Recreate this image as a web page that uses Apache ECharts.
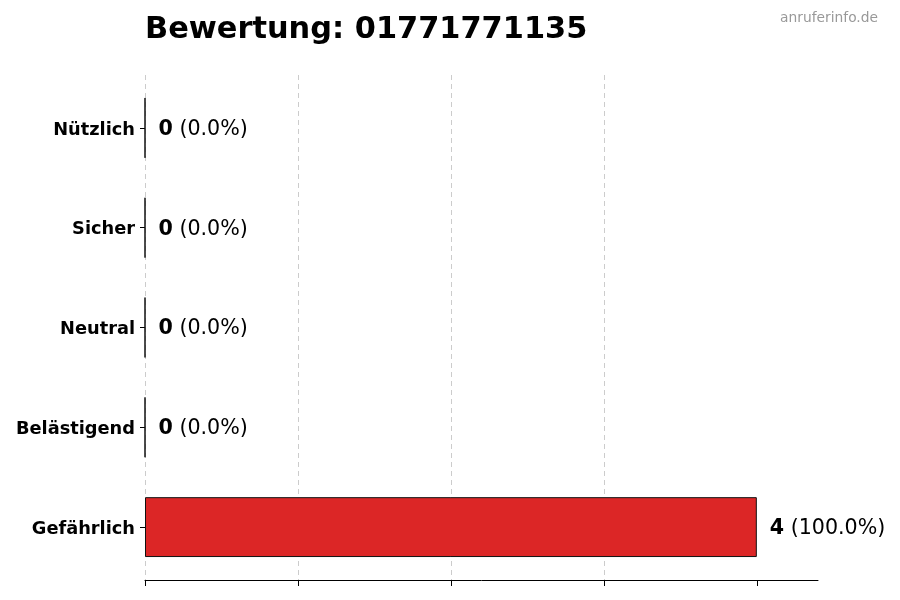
<!DOCTYPE html>
<html><head><meta charset="utf-8">
<script src="https://cdn.jsdelivr.net/npm/echarts@6/dist/echarts.min.js"></script>
<style>html,body{margin:0;padding:0;background:#fff}#c{width:900px;height:600px}</style>
</head><body><div id="c"></div>
<script>
const categories = ['Gefährlich', 'Belästigend', 'Neutral', 'Sicher', 'Nützlich'];
const values = [4, 0, 0, 0, 0];
const percents = [100.0, 0.0, 0.0, 0.0, 0.0];
const xTicks = [0, 1, 2, 3, 4];
const titleText = 'Bewertung: 01771771135';
const watermark = 'anruferinfo.de';

const FONT = 'DejaVu Sans';
const chart = echarts.init(document.getElementById('c'));
chart.setOption({
  animation: false,
  backgroundColor: '#fff',
  title: [
    { text: titleText, left: 140, top: 10, textStyle: { fontFamily: FONT, fontSize: 30.4, fontWeight: 'bold', color: '#000' } },
    { text: watermark, right: 17, top: 6, textStyle: { fontFamily: FONT, fontSize: 13.8, fontWeight: 'normal', color: '#999' } }
  ],
  grid: [
    { left: 145, right: 82, top: 75, bottom: 20, containLabel: false },
    { left: 145, right: 82, top: 78, bottom: 23, containLabel: false }
  ],
  xAxis: [{
    gridIndex: 0, type: 'value', min: 0, max: 4.4, interval: 1,
    axisLine: { show: true, lineStyle: { color: '#000', width: 1 } },
    axisTick: { show: true, length: 6, lineStyle: { color: '#000' }, customValues: xTicks },
    axisLabel: { show: false },
    splitLine: { show: true, showMaxLine: false, lineStyle: { color: '#ccc', type: [5, 4], width: 1 } }
  }, {
    gridIndex: 1, type: 'value', min: 0, max: 4.4, interval: 1, show: false,
    splitLine: { show: false }
  }],
  yAxis: [{
    gridIndex: 0, type: 'value', min: 0, max: 1, show: false, splitLine: { show: false }
  }, {
    gridIndex: 1, type: 'category', data: categories,
    axisLine: { show: false },
    axisTick: { show: true, length: 5, alignWithLabel: true, lineStyle: { color: '#000' } },
    axisLabel: {
      margin: 10,
      formatter: v => '{a|' + v + '}',
      rich: { a: { fontFamily: FONT, fontSize: 17.8, fontWeight: 'bold', color: '#000', padding: [4, 0, 0, 0] } }
    }
  }],
  series: [{
    type: 'bar',
    xAxisIndex: 1, yAxisIndex: 1,
    data: values,
    barWidth: '60%',
    itemStyle: { color: '#dc2626', borderColor: '#111', borderWidth: 1 },
    label: {
      show: true, position: 'right', distance: 13,
      formatter: p => '{b|' + values[p.dataIndex] + '}{n| (' + percents[p.dataIndex].toFixed(1) + '%)}',
      rich: {
        b: { fontFamily: FONT, fontSize: 20.6, fontWeight: 'bold', color: '#000', padding: [3, 0, 0, 0] },
        n: { fontFamily: FONT, fontSize: 20.6, color: '#000', padding: [3, 0, 0, 0] }
      }
    }
  }]
});
</script></body></html>
